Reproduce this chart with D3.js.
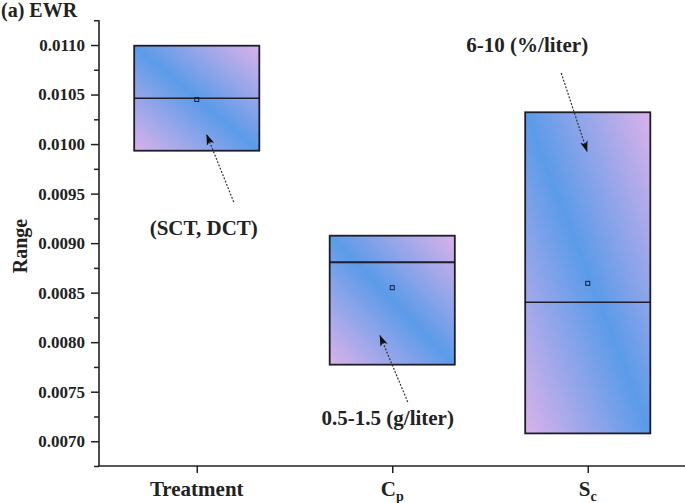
<!DOCTYPE html>
<html>
<head>
<meta charset="utf-8">
<script src="https://cdn.jsdelivr.net/npm/d3@7/dist/d3.min.js"></script>
<style>
  html, body { margin: 0; padding: 0; background: #fff; }
  svg { display: block; font-family: "Liberation Serif", "Times New Roman", serif; font-weight: bold; }
</style>
</head>
<body>
<svg id="chart" width="685" height="503"></svg>
<script>
// ---- data ----
const categories = ["Treatment", "Cp", "Sc"];
const labelMain = ["Treatment", "C", "S"];
const labelSub = ["", "p", "c"];
const boxLow = [0.009933, 0.007773, 0.007079];
const boxHigh = [0.010993, 0.009075, 0.010321];
const boxMedian = [0.010462, 0.008806, 0.008403];
const boxMean = [0.010450, 0.008550, 0.008594];
const yTicks = [0.0070, 0.0075, 0.0080, 0.0085, 0.0090, 0.0095, 0.0100, 0.0105, 0.0110];
const yMinorTicks = [0.00675, 0.00725, 0.00775, 0.00825, 0.00875, 0.00925, 0.00975, 0.01025, 0.01075, 0.01125];
const annText = ["(SCT, DCT)", "0.5-1.5 (g/liter)", "6-10 (%/liter)"];
const annTextValue = [0.009082, 0.007164, 0.010929];
const annTextDx = [7, -4.5, -60.5];
const annTipValue = [0.0101015, 0.008072, 0.00992];
const annTipDx = [9.7, -12.5, -0.5];
const annTailValue = [0.009415, 0.0073961, 0.010717];
const annTailDx = [37, 15.5, -26.5];

(function () {
// ---- layout ----
const svg = d3.select("#chart");
const pLeft = 99, pRight = 685.5, pTop = 20.25, pBottom = 466;
const x = d3.scalePoint().domain(categories).range([pLeft, pRight]).padding(0.5);
const y = d3.scaleLinear().domain([0.00675, 0.01125]).range([pBottom, pTop]);
const step = x.step();
const boxW = step * 0.64;
const dark = "#1d1d2b";

// gradient
const defs = svg.append("defs");
const grad = defs.append("linearGradient").attr("id", "boxGrad")
  .attr("x1", 0).attr("y1", 1).attr("x2", 1).attr("y2", 0);
grad.append("stop").attr("offset", "0%").attr("stop-color", "#dab2ea");
grad.append("stop").attr("offset", "50%").attr("stop-color", "#5b9be9");
grad.append("stop").attr("offset", "100%").attr("stop-color", "#dab2ea");

defs.append("marker").attr("id", "arrow")
  .attr("viewBox", "0 0 10 10").attr("refX", 10).attr("refY", 5)
  .attr("markerWidth", 11).attr("markerHeight", 11)
  .attr("markerUnits", "userSpaceOnUse")
  .attr("orient", "auto")
  .append("path").attr("d", "M0,1.5 L10,5 L0,8.5 L2.5,5 Z").attr("fill", "#111");

// boxes
const g = svg.append("g");
categories.forEach((c, i) => {
  const cx = x(c);
  g.append("rect")
    .attr("x", cx - boxW / 2).attr("y", y(boxHigh[i]))
    .attr("width", boxW).attr("height", y(boxLow[i]) - y(boxHigh[i]))
    .attr("fill", "url(#boxGrad)")
    .attr("stroke", dark).attr("stroke-width", 1.8);
  g.append("line")
    .attr("x1", cx - boxW / 2).attr("x2", cx + boxW / 2)
    .attr("y1", y(boxMedian[i])).attr("y2", y(boxMedian[i]))
    .attr("stroke", dark).attr("stroke-width", i === 1 ? 2 : 1.5);
  g.append("rect")
    .attr("x", cx - 2).attr("y", y(boxMean[i]) - 2)
    .attr("width", 4).attr("height", 4)
    .attr("fill", "none").attr("stroke", dark).attr("stroke-width", 1);
});

// axes
const yAxis = svg.append("g").attr("transform", `translate(${pLeft},0)`)
  .call(d3.axisLeft(y).tickValues(yTicks).tickSize(8).tickPadding(6).tickFormat(d3.format(".4f")));
yAxis.select(".domain").remove();
yAxis.selectAll("line").attr("stroke", "#222").attr("stroke-width", 1.5);
yAxis.selectAll("text").attr("font-size", 17).attr("fill", "#222")
  .attr("font-family", "Liberation Serif").attr("font-weight", "bold");

const yMinor = svg.append("g").attr("transform", `translate(${pLeft},0)`)
  .call(d3.axisLeft(y).tickValues(yMinorTicks).tickSize(5).tickFormat(""));
yMinor.select(".domain").remove();
yMinor.selectAll("line").attr("stroke", "#222").attr("stroke-width", 1.5);

svg.append("line").attr("x1", pLeft).attr("x2", pLeft).attr("y1", pTop).attr("y2", pBottom)
  .attr("stroke", "#222").attr("stroke-width", 1.6);

const xAxis = svg.append("g").attr("transform", `translate(0,${pBottom})`)
  .call(d3.axisBottom(x).tickSize(7).tickFormat(""));
xAxis.select(".domain").remove();
xAxis.selectAll("line").attr("stroke", "#222").attr("stroke-width", 1.5);
svg.append("line").attr("x1", pLeft - 1).attr("x2", 685).attr("y1", pBottom).attr("y2", pBottom)
  .attr("stroke", "#222").attr("stroke-width", 1.6);

categories.forEach((c, i) => {
  const t = svg.append("text").attr("x", x(c)).attr("y", 496)
    .attr("text-anchor", "middle").attr("font-size", 21).attr("fill", "#222");
  t.append("tspan").text(labelMain[i]);
  if (labelSub[i]) {
    t.append("tspan").attr("font-size", 14).attr("dy", 5).text(labelSub[i]);
  }
});

// y label
svg.append("text").attr("transform", "translate(27,246) rotate(-90)")
  .attr("text-anchor", "middle").attr("font-size", 20).attr("fill", "#222").text("Range");

// title
svg.append("text").attr("x", 1).attr("y", 17).attr("font-size", 20).attr("fill", "#222").text("(a) EWR");

// annotations
categories.forEach((c, i) => {
  const cx = x(c);
  svg.append("line")
    .attr("x1", cx + annTailDx[i]).attr("y1", y(annTailValue[i]))
    .attr("x2", cx + annTipDx[i]).attr("y2", y(annTipValue[i]))
    .attr("stroke", "#333").attr("stroke-width", 1.2)
    .attr("stroke-dasharray", "2,1.5")
    .attr("marker-end", "url(#arrow)");
  svg.append("text").attr("x", cx + annTextDx[i]).attr("y", y(annTextValue[i]))
    .attr("text-anchor", "middle").attr("font-size", 21).attr("fill", "#222").text(annText[i]);
});
})();
</script>
</body>
</html>
